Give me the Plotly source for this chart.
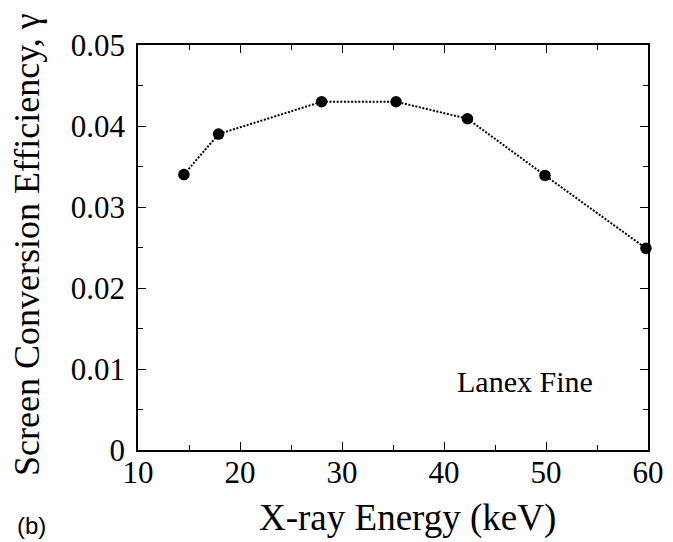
import plotly.graph_objects as go

energy_kev = [14.5, 17.9, 28.0, 35.3, 42.3, 49.9, 59.8]
efficiency = [0.0340, 0.0390, 0.0430, 0.0430, 0.0409, 0.0339, 0.0249]

x_ticks = [10, 20, 30, 40, 50, 60]
y_ticks = [0, 0.01, 0.02, 0.03, 0.04, 0.05]
y_tick_text = ["0", "0.01", "0.02", "0.03", "0.04", "0.05"]

serif = "Liberation Serif"

fig = go.Figure()
fig.add_trace(go.Scatter(
    x=energy_kev, y=efficiency, mode="lines+markers",
    line=dict(color="black", width=2, dash="2px,1.6px"),
    marker=dict(color="black", size=11.5),
    cliponaxis=False,
    showlegend=False,
))

L, R, T, B = 130, 33, 37, 100
W, H = 673, 542
pw, ph = W - L - R, H - T - B

def px(x):
    return (x - L) / pw

def py(y):
    return (H - B - y) / ph

axis_common = dict(
    showline=True, linecolor="black", linewidth=1.6, mirror="ticks",
    ticks="inside", ticklen=8, tickwidth=1.4, tickcolor="black",
    showgrid=False, zeroline=False,
    tickfont=dict(family=serif, size=31, color="black"),
)

fig.update_xaxes(
    range=[10, 60], tickvals=x_ticks, ticktext=[str(v) for v in x_ticks],
    minor=dict(dtick=5, ticks="inside", ticklen=5, tickwidth=1.2, tickcolor="black", showgrid=False),
    **axis_common,
)
try:
    fig.update_xaxes(ticklabelstandoff=-6)
except Exception:
    fig.update_xaxes(ticklabelstandoff=0)

fig.update_yaxes(
    range=[0, 0.05], tickvals=y_ticks, ticktext=y_tick_text,
    ticklabelstandoff=5,
    minor=dict(dtick=0.005, ticks="inside", ticklen=5, tickwidth=1.2, tickcolor="black", showgrid=False),
    **axis_common,
)

def label(text, cx, cy, size, family=serif, angle=0):
    fig.add_annotation(text=text, xref="paper", yref="paper",
                       x=px(cx), y=py(cy), xanchor="center", yanchor="middle",
                       showarrow=False, textangle=angle,
                       font=dict(family=family, size=size, color="black"))

label("X-ray Energy (keV)", 399, 510, 37)
label("Screen Conversion Efficiency, γ", 19, 237, 36, angle=-90)
label("Lanex Fine", 517, 373, 30)
label("(b)", 23, 517, 24, family="Liberation Sans")

fig.update_layout(
    width=W, height=H,
    margin=dict(l=L, r=R, t=T, b=B),
    paper_bgcolor="white", plot_bgcolor="white",
    font=dict(family=serif, color="black"),
)

fig.write_html("out.html")
